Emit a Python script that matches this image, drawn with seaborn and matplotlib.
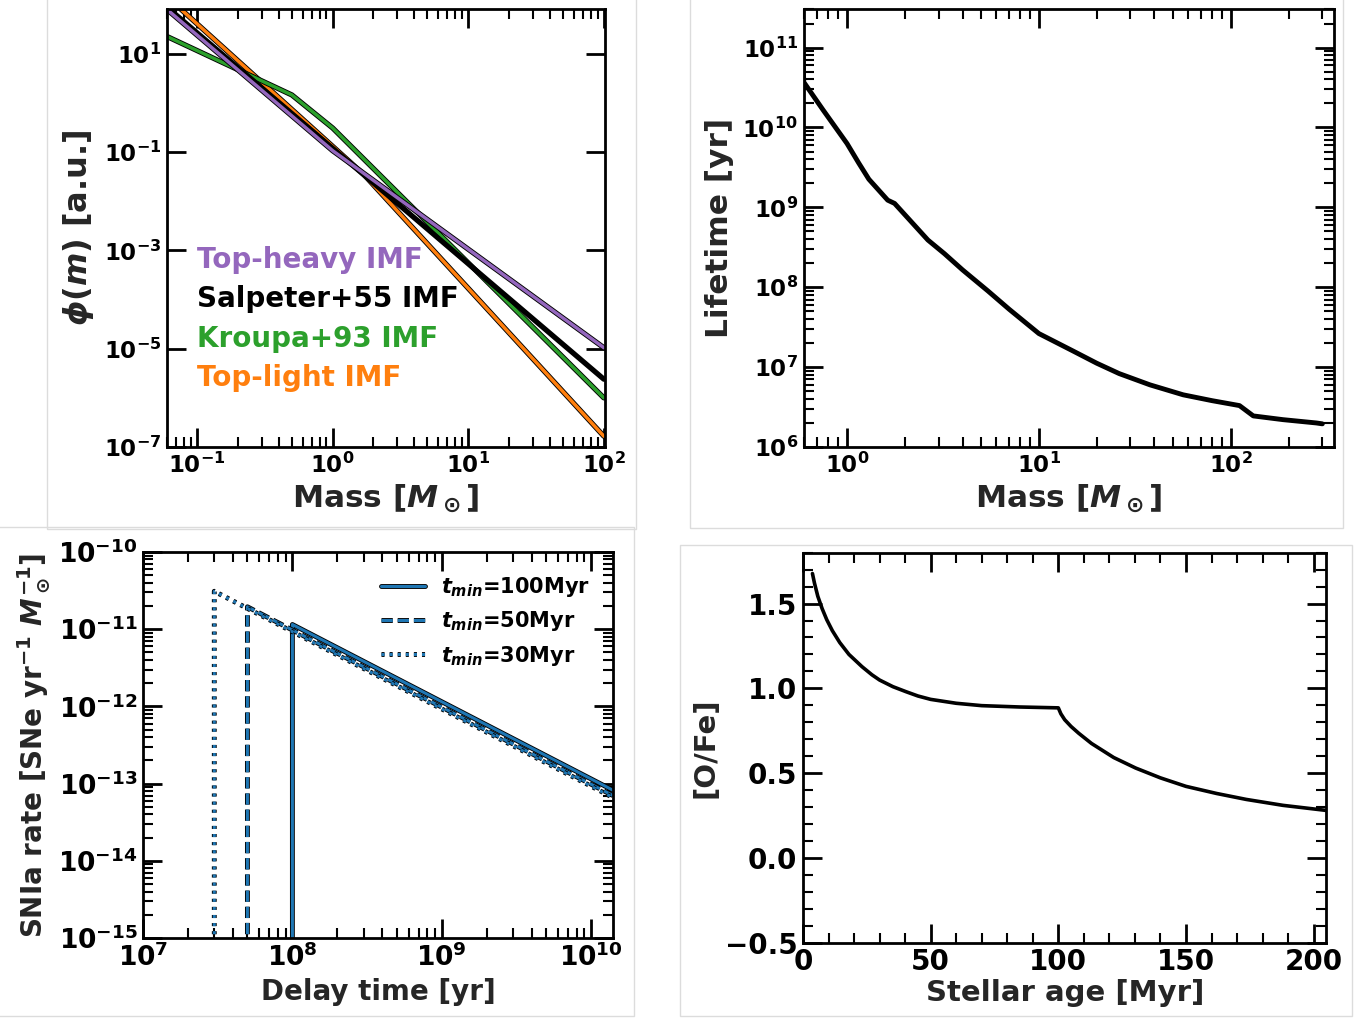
import numpy as np
import pandas as pd
import matplotlib
matplotlib.use("Agg")
import matplotlib.pyplot as plt
import matplotlib.patheffects as pe
from matplotlib.patches import Rectangle
from matplotlib.ticker import LogLocator, NullLocator, MultipleLocator, FixedLocator, NullFormatter
import seaborn as sns

# ---------------- data ----------------
# Panel (a): IMF shapes (breakpoints of the power laws)
imf_names = ["Top-heavy IMF", "Salpeter+55 IMF", "Kroupa+93 IMF", "Top-light IMF"]
imf_colors = ["#9467bd", "#000000", "#2ca02c", "#ff7f0e"]
topheavy_m = [0.06, 1.0, 100.0]
topheavy_phi = [80.0, 0.107, 1.05e-5]
salpeter_m = [0.06, 100.0]
salpeter_phi = [89.0, 2.4e-6]
kroupa_m = [0.06, 0.5, 1.0, 100.0]
kroupa_phi = [22.6, 1.46, 0.31, 1.0e-6]
toplight_m = [0.076, 1.7, 100.0]
toplight_phi = [81.0, 0.035, 1.66e-7]

# Panel (b): stellar lifetime vs mass
life_mass = [0.585, 0.595, 0.75, 1.0, 1.15, 1.3, 1.63, 1.77, 2.64, 3.22, 4.0, 5.42, 7.0,
             10.0, 15.0, 20.0, 26.2, 37.9, 56.5, 80.0, 111.0, 131.0, 187.0, 279.0, 300.0]
life_time = [1.6e11, 3.7e10, 1.66e10, 6.3e9, 3.6e9, 2.25e9, 1.23e9, 1.12e9, 3.9e8, 2.63e8,
             1.65e8, 9.0e7, 5.3e7, 2.63e7, 1.6e7, 1.12e7, 8.3e6, 6.0e6, 4.5e6, 3.8e6,
             3.3e6, 2.45e6, 2.2e6, 2.0e6, 1.95e6]

# Panel (c): SNIa delay-time distributions
dtd_labels = [r"$t_{min}$=100Myr", r"$t_{min}$=50Myr", r"$t_{min}$=30Myr"]
dtd_styles = ["-", "--", ":"]
dtd_tmin = [1e8, 5e7, 3e7]
dtd_tmax = 1.4e10
dtd_floor = 1e-16
dtd_peak = [1.15e-11, 1.95e-11, 3.1e-11]
dtd_end = [8.2e-14, 7.0e-14, 6.6e-14]

# Panel (d): [O/Fe] vs stellar age
age_myr = [3.7, 4.5, 5.8, 7.5, 9.3, 11.5, 14.4, 18.0, 23.1, 27.0, 30.0, 35.2, 40.4,
           45.0, 50.0, 60.0, 70.0, 85.0, 100.0, 101.0, 102.5, 105.0, 108.0, 113.0,
           121.7, 130.3, 140.0, 150.0, 162.0, 173.6, 188.0, 205.0]
o_fe = [1.677, 1.62, 1.543, 1.47, 1.405, 1.34, 1.27, 1.2, 1.128, 1.08, 1.049, 1.01,
        0.98, 0.955, 0.935, 0.912, 0.898, 0.89, 0.885, 0.85, 0.815, 0.775, 0.735,
        0.675, 0.592, 0.53, 0.472, 0.422, 0.38, 0.345, 0.31, 0.28]

# ---------------- style ----------------
sns.set_theme(style="ticks")
plt.rcParams.update({
    "font.family": ["DejaVu Sans"],
    "font.weight": "bold",
    "axes.labelweight": "bold",
    "mathtext.fontset": "custom",
    "mathtext.rm": "DejaVu Sans:bold",
    "mathtext.bf": "DejaVu Sans:bold",
    "mathtext.it": "DejaVu Sans:italic:bold",
    "mathtext.default": "it",
    "axes.edgecolor": "black",
    "text.color": "black",
    "xtick.color": "black",
    "ytick.color": "black",
})

W, H = 1364, 1019
fig = plt.figure(figsize=(W / 100, H / 100), dpi=100)
fig.patch.set_facecolor("white")

# light frames around each panel
for (x0, y0, x1, y1) in [(47, -3, 636, 529), (690, -3, 1343, 528),
                         (-3, 527, 634, 1016), (680, 545, 1352, 1016)]:
    fig.add_artist(Rectangle((x0 / W, 1 - y1 / H), (x1 - x0) / W, (y1 - y0) / H,
                             transform=fig.transFigure, fill=False,
                             edgecolor="#dcdcdc", linewidth=1.0, zorder=0))


def px_axes(l, r, t, b):
    return fig.add_axes([l / W, 1 - b / H, (r - l) / W, (b - t) / H])


def style_ax(ax, fs):
    ax.set_facecolor("white")
    ax.tick_params(which="both", direction="in", top=True, right=True,
                   bottom=True, left=True, labelsize=fs, pad=4, colors="black")
    ax.tick_params(which="major", length=14, width=2)
    ax.tick_params(which="minor", length=7, width=1.5)
    for s in ax.spines.values():
        s.set_linewidth(2)
        s.set_color("black")
        s.set_visible(True)
    for lab in ax.get_xticklabels() + ax.get_yticklabels():
        lab.set_fontweight("bold")


def stroke(lw):
    return [pe.Stroke(linewidth=lw + 1.3, foreground="black"), pe.Normal()]

# ---------------- panel (a) ----------------
ax1 = px_axes(167, 605, 9.5, 447)
imf_sets = [(topheavy_m, topheavy_phi), (salpeter_m, salpeter_phi),
            (kroupa_m, kroupa_phi), (toplight_m, toplight_phi)]
for i in [3, 2, 1, 0]:
    m, p = imf_sets[i]
    df = pd.DataFrame({"m": m, "phi": p})
    sns.lineplot(data=df, x="m", y="phi", ax=ax1, color=imf_colors[i], lw=2.5,
                 sort=False, estimator=None, label=imf_names[i],
                 path_effects=stroke(2.5))
ax1.set_xscale("log")
ax1.set_yscale("log")
ax1.set_xlim(0.06, 102)
ax1.set_ylim(1e-7, 80)
ax1.yaxis.set_major_locator(FixedLocator([1e-7, 1e-5, 1e-3, 1e-1, 1e1]))
ax1.yaxis.set_minor_locator(NullLocator())
ax1.xaxis.set_major_locator(LogLocator(base=10, numticks=10))
ax1.xaxis.set_minor_locator(LogLocator(base=10, subs=np.arange(2, 10), numticks=20))
ax1.xaxis.set_minor_formatter(NullFormatter())
style_ax(ax1, 16.5)
ax1.set_xlabel(r"Mass [$M_\odot$]", fontsize=22.5, fontweight="bold", labelpad=3)
ax1.set_ylabel(r"$\phi(m)$ [a.u.]", fontsize=23, fontweight="bold", labelpad=6)
h, l = ax1.get_legend_handles_labels()
idx = [l.index(n) for n in imf_names]
leg1 = ax1.legend([h[k] for k in idx], [l[k] for k in idx], loc="upper left",
                  bbox_to_anchor=(0.068, 0.46), frameon=False, handlelength=0,
                  handletextpad=0, labelcolor=imf_colors,
                  prop={"size": 20, "weight": "bold"}, labelspacing=0.41,
                  borderaxespad=0, borderpad=0)
for hh in leg1.legend_handles:
    hh.set_visible(False)

# ---------------- panel (b) ----------------
ax2 = px_axes(803.6, 1334, 9.5, 447)
df2 = pd.DataFrame({"mass": life_mass, "lifetime": life_time})
sns.lineplot(data=df2, x="mass", y="lifetime", ax=ax2, color="black", lw=3.5,
             sort=False, estimator=None)
ax2.set_xscale("log")
ax2.set_yscale("log")
ax2.set_xlim(0.594, 345)
ax2.set_ylim(1e6, 3e11)
ax2.xaxis.set_major_locator(LogLocator(base=10, numticks=10))
ax2.xaxis.set_minor_locator(LogLocator(base=10, subs=np.arange(2, 10), numticks=20))
ax2.yaxis.set_major_locator(LogLocator(base=10, numticks=10))
ax2.yaxis.set_minor_locator(LogLocator(base=10, subs=np.arange(2, 10), numticks=20))
ax2.xaxis.set_minor_formatter(NullFormatter())
ax2.yaxis.set_minor_formatter(NullFormatter())
style_ax(ax2, 16.5)
ax2.set_xlabel(r"Mass [$M_\odot$]", fontsize=22.5, fontweight="bold", labelpad=3)
ax2.set_ylabel("Lifetime [yr]", fontsize=22.5, fontweight="bold", labelpad=6)

# ---------------- panel (c) ----------------
ax3 = px_axes(143, 613, 552, 938)
for lab, ls, t0, pk, en in zip(dtd_labels, dtd_styles, dtd_tmin, dtd_peak, dtd_end):
    df3 = pd.DataFrame({"t": [t0, t0, dtd_tmax], "r": [dtd_floor, pk, en]})
    sns.lineplot(data=df3, x="t", y="r", ax=ax3, color="#1f77b4", lw=2.2,
                 linestyle=ls, sort=False, estimator=None, label=lab,
                 path_effects=stroke(2.2))
ax3.set_xscale("log")
ax3.set_yscale("log")
ax3.set_xlim(1e7, 1.4e10)
ax3.set_ylim(1e-15, 1e-10)
ax3.xaxis.set_major_locator(LogLocator(base=10, numticks=10))
ax3.xaxis.set_minor_locator(LogLocator(base=10, subs=np.arange(2, 10), numticks=20))
ax3.yaxis.set_major_locator(LogLocator(base=10, numticks=10))
ax3.yaxis.set_minor_locator(LogLocator(base=10, subs=np.arange(2, 10), numticks=20))
ax3.xaxis.set_minor_formatter(NullFormatter())
ax3.yaxis.set_minor_formatter(NullFormatter())
style_ax(ax3, 19)
ax3.set_xlabel("Delay time [yr]", fontsize=20, fontweight="bold", labelpad=4)
ax3.set_ylabel(r"SNIa rate [SNe yr$^{-1}$ $M_\odot^{-1}$]", fontsize=20,
               fontweight="bold", labelpad=4)
ax3.legend(loc="upper right", frameon=False, prop={"size": 15, "weight": "bold"},
           handlelength=2.07, handletextpad=0.8, labelspacing=0.5,
           borderaxespad=1.1, borderpad=0)

# ---------------- panel (d) ----------------
ax4 = px_axes(803, 1326.4, 552.7, 942.7)
df4 = pd.DataFrame({"age": age_myr, "ofe": o_fe})
sns.lineplot(data=df4, x="age", y="ofe", ax=ax4, color="black", lw=2.6,
             sort=False, estimator=None)
ax4.set_xlim(0, 205)
ax4.set_ylim(-0.5, 1.8)
ax4.xaxis.set_major_locator(MultipleLocator(50))
ax4.xaxis.set_minor_locator(MultipleLocator(10))
ax4.yaxis.set_major_locator(MultipleLocator(0.5))
ax4.yaxis.set_minor_locator(MultipleLocator(0.1))
style_ax(ax4, 20)
ax4.set_xlabel("Stellar age [Myr]", fontsize=21, fontweight="bold", labelpad=2)
ax4.set_ylabel("[O/Fe]", fontsize=21, fontweight="bold", labelpad=4)

fig.savefig("out.png", dpi=100, facecolor="white")
